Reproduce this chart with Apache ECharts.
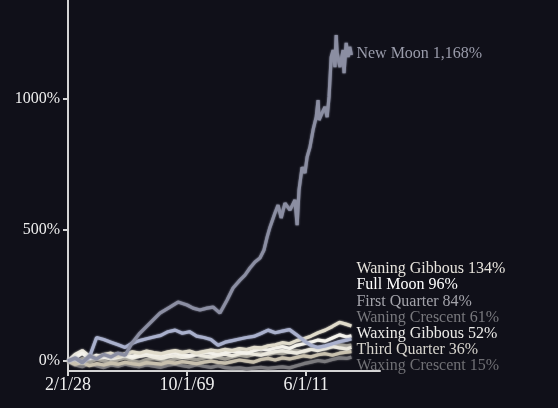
<!DOCTYPE html>
<html><head><meta charset="utf-8">
<script src="https://cdn.jsdelivr.net/npm/echarts@6/dist/echarts.min.js"></script>
<style>html,body{margin:0;padding:0;background:#101019;overflow:hidden}#c{width:558px;height:408px}</style>
</head><body><div id="c"></div><script>
// x values are months since Feb 1928
const xTickMonths = [0, 500, 1000];
const xTickLabels = ['2/1/28', '10/1/69', '6/1/11'];
const yTickValues = [0, 500, 1000];

const months = [0,30,60,90,120,150,180,210,240,270,300,330,360,390,420,450,480,510,540,570,600,630,660,690,720,750,780,810,840,870,900,930,960,990,1020,1050,1080,1110,1140,1170,1190];

const waxingCrescent = [0,-15,-22,-8,-18,-25,-15,-20,-12,-18,-22,-15,-20,-24,-16,-12,-18,-22,-14,-20,-24,-18,-25,-28,-26,-30,-27,-24,-28,-25,-22,-26,-18,-10,-4,2,-2,6,12,10,15];
const waningCrescent = [0,-10,10,-5,8,0,-8,5,12,2,-5,6,10,4,-2,8,15,10,5,12,18,14,8,16,22,18,25,30,24,32,28,36,40,35,44,50,46,55,62,58,61];
const thirdQuarter   = [0,-12,-5,-18,-10,-15,-8,-12,-5,-10,-14,-6,-9,-12,-4,-8,-2,-6,-10,-4,0,-5,-8,-2,4,0,-4,6,10,4,12,8,14,20,16,24,28,22,30,34,36];
const waxingGibbous  = [0,25,40,18,10,15,8,14,20,12,18,22,15,10,16,20,14,18,24,20,15,22,26,20,28,32,26,22,30,36,40,34,30,38,45,40,48,56,50,46,52];
const fullMoon       = [0,12,30,8,22,15,20,28,22,18,25,30,26,22,28,32,25,20,28,34,30,26,32,38,35,30,40,46,42,50,55,48,60,66,72,80,76,88,100,92,96];
const waningGibbous  = [0,5,-8,20,12,25,30,18,28,35,30,38,32,28,35,40,33,38,30,36,42,38,45,40,48,44,52,50,58,62,70,66,78,85,95,108,118,132,148,140,134];
const firstQuarter   = [0,10,-5,15,90,82,72,62,52,68,78,85,92,98,112,118,106,112,95,90,82,60,72,78,84,90,94,105,118,108,114,120,100,78,60,52,58,66,74,80,84];

const newMoonMonths = [0,30,60,90,120,150,180,210,240,269,302,344,386,428,462,500,525,554,584,609,638,668,693,722,743,764,785,806,823,836,848,869,882,895,911,932,953,962,970,983,995,1004,1016,1029,1042,1050,1054,1067,1079,1088,1096,1105,1113,1121,1126,1130,1142,1155,1159,1168,1176,1183,1190];
const newMoonValues = [0,12,-6,20,8,25,15,30,22,69,107,145,183,206,225,214,202,195,202,206,183,233,279,309,328,355,378,393,424,473,511,565,595,546,603,576,615,519,653,740,718,779,817,882,931,996,920,947,970,931,1008,1160,1187,1122,1244,1176,1122,1187,1099,1214,1160,1199,1168];

const seriesNames = ['Waxing Crescent','Waning Crescent','Third Quarter','Waxing Gibbous','Full Moon','Waning Gibbous','First Quarter','New Moon'];
const seriesValues = [waxingCrescent, waningCrescent, thirdQuarter, waxingGibbous, fullMoon, waningGibbous, firstQuarter, null];

// styles
const lineColors  = ['#7a797d','#9d9a92','#c8c0ae','#ebe8de','#f4f2ec','#e0dbcb','#a9b0cc','#8b8ea2'];
const labelColors = ['#707075','#78787d','#d6d3cc','#ecebe8','#ffffff','#e6e3dc','#a3a3aa','#9a9cab'];
const labelY      = [366, 318, 350, 334, 285, 269, 302, 54];

function pairs(i){
  if (seriesValues[i]) return months.map((m,k)=>[m, seriesValues[i][k]]);
  return newMoonMonths.map((m,k)=>[m, newMoonValues[k]]);
}

const chart = echarts.init(document.getElementById('c'), null, {renderer:'canvas'});
const font = '"Liberation Serif", "DejaVu Serif", serif';
const axisColor = '#d4d4d4';

const series = seriesNames.map((name,i)=>({
  name, type:'line', data: pairs(i), showSymbol:false, symbol:'none',
  lineStyle:{color:lineColors[i], width:3.2, shadowColor:lineColors[i], shadowBlur:2},
  itemStyle:{color:lineColors[i]},
  z: 2 + i,
  endLabel:{show:true, distance:5, color:labelColors[i], fontFamily:font, fontSize:16,
    formatter: p => name + ' ' + Number(p.value[1]).toLocaleString('en-US') + '%'}
}));

chart.setOption({
  animation:false,
  backgroundColor:'#101019',
  grid:{left:68, right:178, top:0, bottom:37, containLabel:false},
  xAxis:{type:'value', min:0, max:1310,
    axisLine:{show:true, onZero:false, lineStyle:{color:axisColor, width:2}},
    axisTick:{show:true, customValues:xTickMonths, length:5, lineStyle:{color:axisColor, width:2}},
    axisLabel:{customValues:xTickMonths, margin:5, color:'#eeeeee', fontFamily:font, fontSize:18,
      formatter: v => xTickLabels[xTickMonths.indexOf(v)]},
    splitLine:{show:false}},
  yAxis:{type:'value', min:-38, max:1378,
    axisLine:{show:true, onZero:false, lineStyle:{color:axisColor, width:2}},
    axisTick:{show:true, customValues:yTickValues, length:5, lineStyle:{color:axisColor, width:2}},
    axisLabel:{customValues:yTickValues, margin:8, color:'#eeeeee', fontFamily:font, fontSize:16,
      formatter: v => v + '%'},
    splitLine:{show:false}},
  series
});

// shift end labels vertically to their stacked positions
const upd = seriesNames.map((name,i)=>{
  const d = pairs(i); const last = d[d.length-1];
  const p = chart.convertToPixel({xAxisIndex:0, yAxisIndex:0}, last);
  return {endLabel:{offset:[0, labelY[i]-p[1]]}};
});
chart.setOption({series: upd});
</script></body></html>
